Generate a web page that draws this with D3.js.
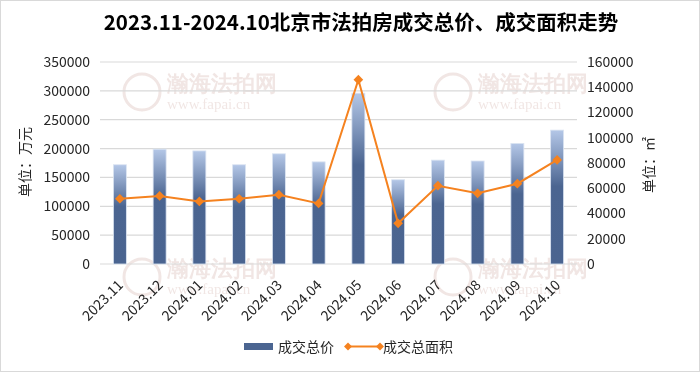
<!DOCTYPE html>
<html>
<head>
<meta charset="utf-8">
<script src="https://cdn.jsdelivr.net/npm/d3@7"></script>
<style>
  html, body { margin: 0; padding: 0; background: #fff; }
  svg { display: block; font-family: "Noto Sans CJK SC", "Noto Sans", sans-serif; }
</style>
</head>
<body>
<svg id="chart" width="700" height="372"></svg>
<script>
const months = ["2023.11", "2023.12", "2024.01", "2024.02", "2024.03", "2024.04",
  "2024.05", "2024.06", "2024.07", "2024.08", "2024.09", "2024.10"];
const totalPrice = [172000, 199000, 196000, 172000, 191000, 177000,
  296000, 146000, 180000, 178500, 209000, 232000];
const totalArea = [51700, 53900, 49600, 51700, 54900, 48000,
  146000, 32200, 62000, 56000, 63600, 82400];
const leftTicks = [0, 50000, 100000, 150000, 200000, 250000, 300000, 350000];
const rightTicks = [0, 20000, 40000, 60000, 80000, 100000, 120000, 140000, 160000];

const svg = d3.select("#chart");
const W = 700, H = 372;
const plot = { left: 100, right: 577, top: 62, bottom: 264 };

svg.append("rect").attr("x", 0.5).attr("y", 0.5).attr("width", W - 1).attr("height", H - 1)
  .attr("fill", "#fff").attr("stroke", "#d9d9d9");

// gradient for bars
const defs = svg.append("defs");
const grad = defs.append("linearGradient").attr("id", "barGrad")
  .attr("x1", 0).attr("y1", 0).attr("x2", 0).attr("y2", 1);
grad.append("stop").attr("offset", "0%").attr("stop-color", "#b4c7e7");
grad.append("stop").attr("offset", "42%").attr("stop-color", "#4b6591");
grad.append("stop").attr("offset", "100%").attr("stop-color", "#4a6490");

// watermarks
const marks = [[0, 0], [311, 0], [0, 185], [311, 185]];
const wm = svg.append("g").attr("opacity", 0.15);
marks.forEach(([dx, dy]) => {
  const g = wm.append("g").attr("transform", `translate(${dx},${dy})`);
  g.append("circle").attr("cx", 142).attr("cy", 92).attr("r", 18)
    .attr("fill", "none").attr("stroke", "#a0584a").attr("stroke-width", 3);
  g.append("text").attr("x", 167).attr("y", 91).attr("font-size", 22)
    .attr("font-family", "serif").attr("font-weight", "bold").attr("fill", "#a0584a").text("瀚海法拍网");
  g.append("text").attr("x", 167).attr("y", 109).attr("font-size", 15)
    .attr("font-family", "serif").attr("fill", "#a0584a").text("www.fapai.cn");
});

const x = d3.scaleBand().domain(months).range([plot.left, plot.right]);
const yL = d3.scaleLinear().domain([0, 350000]).range([plot.bottom, plot.top]);
const yR = d3.scaleLinear().domain([0, 160000]).range([plot.bottom, plot.top]);

// gridlines
svg.append("g").selectAll("line").data(leftTicks).join("line")
  .attr("x1", plot.left).attr("x2", plot.right)
  .attr("y1", d => yL(d)).attr("y2", d => yL(d))
  .attr("stroke", "#d9d9d9").attr("stroke-width", 1.2);

// left axis
const axL = svg.append("g").attr("transform", `translate(${plot.left - 10},0)`)
  .call(d3.axisLeft(yL).tickValues(leftTicks).tickSize(0).tickPadding(0).tickFormat(d3.format("d")));
axL.select(".domain").remove();
axL.selectAll("text").attr("font-size", 14).attr("fill", "#262626").attr("font-family", "Noto Sans CJK SC");

// right axis
const axR = svg.append("g").attr("transform", `translate(${plot.right + 10},0)`)
  .call(d3.axisRight(yR).tickValues(rightTicks).tickSize(0).tickPadding(0).tickFormat(d3.format("d")));
axR.select(".domain").remove();
axR.selectAll("text").attr("font-size", 14).attr("fill", "#262626").attr("font-family", "Noto Sans CJK SC");

// bottom axis labels
const axB = svg.append("g").attr("transform", `translate(0,${plot.bottom})`)
  .call(d3.axisBottom(x).tickSize(0).tickPadding(0));
axB.select(".domain").remove();
axB.selectAll("text")
  .attr("font-size", 14).attr("fill", "#262626").attr("font-family", "Noto Sans CJK SC")
  .attr("text-anchor", "end").attr("dy", 0)
  .attr("transform", "translate(4,22) rotate(-45)");

// bars
const bw = 13;
svg.append("g").selectAll("rect").data(totalPrice).join("rect")
  .attr("x", (d, i) => x(months[i]) + x.bandwidth() / 2 - bw / 2)
  .attr("y", d => yL(d))
  .attr("width", bw)
  .attr("height", d => plot.bottom - yL(d))
  .attr("fill", "url(#barGrad)")
  .attr("stroke", "#dce5f2").attr("stroke-width", 0.8);

// line
const cx = i => x(months[i]) + x.bandwidth() / 2;
svg.append("path").datum(totalArea)
  .attr("fill", "none").attr("stroke", "#f5821f").attr("stroke-width", 2)
  .attr("d", d3.line().x((d, i) => cx(i)).y(d => yR(d)));
svg.append("g").selectAll("path").data(totalArea).join("path")
  .attr("transform", (d, i) => `translate(${cx(i)},${yR(d)})`)
  .attr("d", d3.symbol(d3.symbolDiamond2, 60))
  .attr("fill", "#f5821f");

// axis titles
svg.append("text").attr("transform", "translate(30,162) rotate(-90)")
  .attr("text-anchor", "middle").attr("font-size", 14).attr("fill", "#262626").text("单位：万元");
svg.append("text").attr("transform", "translate(654,165) rotate(-90)")
  .attr("text-anchor", "middle").attr("font-size", 14).attr("fill", "#262626").text("单位：㎡");

// title
svg.append("text").attr("x", 361).attr("y", 30).attr("text-anchor", "middle")
  .attr("font-size", 20.5).attr("font-weight", "bold").attr("fill", "#000")
  .text("2023.11-2024.10北京市法拍房成交总价、成交面积走势");

// legend
const lg = svg.append("g");
lg.append("rect").attr("x", 244).attr("y", 343).attr("width", 29).attr("height", 7).attr("fill", "#4b6591");
lg.append("text").attr("x", 278).attr("y", 351.5).attr("font-size", 14).attr("fill", "#262626").text("成交总价");
lg.append("line").attr("x1", 348).attr("x2", 380).attr("y1", 346.5).attr("y2", 346.5)
  .attr("stroke", "#f5821f").attr("stroke-width", 2);
[348, 380].forEach(px => lg.append("path").attr("transform", `translate(${px},346.5)`)
  .attr("d", d3.symbol(d3.symbolDiamond2, 40)).attr("fill", "#f5821f"));
lg.append("text").attr("x", 383).attr("y", 351.5).attr("font-size", 14).attr("fill", "#262626").text("成交总面积");
</script>
</body>
</html>
